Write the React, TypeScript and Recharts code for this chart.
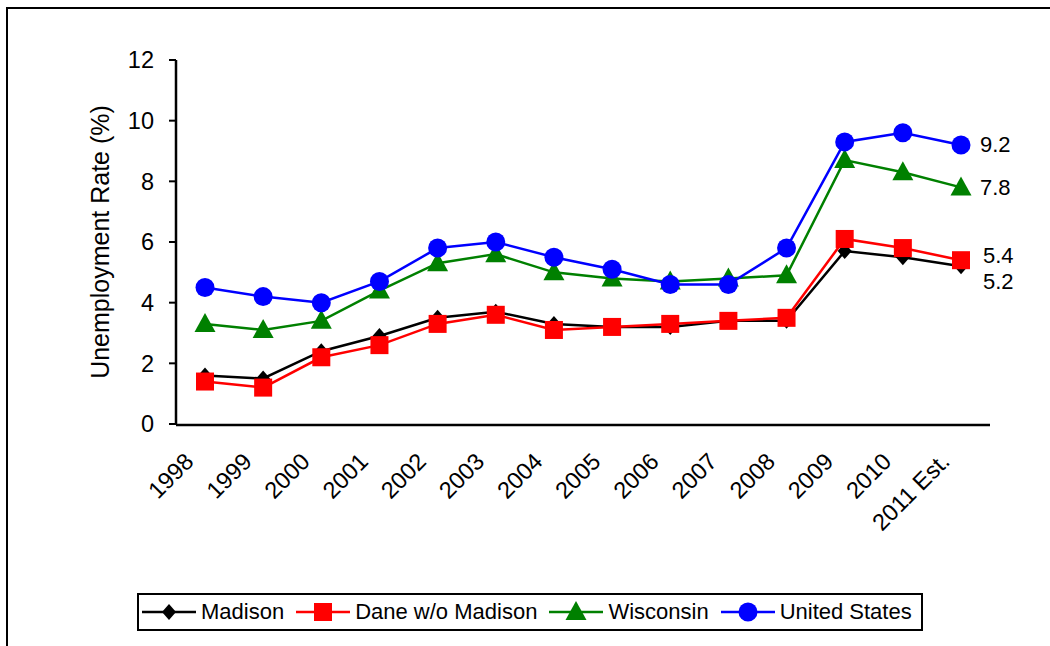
import { LineChart, Line, XAxis, YAxis, Legend, LabelList } from 'recharts'

const years = ['1998', '1999', '2000', '2001', '2002', '2003', '2004', '2005', '2006', '2007', '2008', '2009', '2010', '2011 Est.']
const madison = [1.6, 1.5, 2.4, 2.9, 3.5, 3.7, 3.3, 3.2, 3.2, 3.4, 3.4, 5.7, 5.5, 5.2]
const daneWoMadison = [1.4, 1.2, 2.2, 2.6, 3.3, 3.6, 3.1, 3.2, 3.3, 3.4, 3.5, 6.1, 5.8, 5.4]
const wisconsin = [3.3, 3.1, 3.4, 4.4, 5.3, 5.6, 5.0, 4.8, 4.7, 4.8, 4.9, 8.7, 8.3, 7.8]
const unitedStates = [4.5, 4.2, 4.0, 4.7, 5.8, 6.0, 5.5, 5.1, 4.6, 4.6, 5.8, 9.3, 9.6, 9.2]
const yTicks = [0, 2, 4, 6, 8, 10, 12]
const edgeTicks = [0, 1, 2, 3, 4, 5, 6, 7, 8, 9, 10, 11, 12, 13, 14]

const FONT = '"Liberation Sans", Arial, sans-serif'

type Shape = 'diamond' | 'square' | 'triangle' | 'circle'

const series = [
  { key: 'madison', name: 'Madison', color: '#000000', shape: 'diamond' as Shape, labelDx: 22, labelDy: 15 },
  { key: 'dane', name: 'Dane w/o Madison', color: '#ff0000', shape: 'square' as Shape, labelDx: 22, labelDy: -5 },
  { key: 'wisconsin', name: 'Wisconsin', color: '#008000', shape: 'triangle' as Shape, labelDx: 19, labelDy: 0 },
  { key: 'us', name: 'United States', color: '#0000ff', shape: 'circle' as Shape, labelDx: 19, labelDy: 0 }
]

const data = years.map((year, i) => ({
  year,
  madison: madison[i],
  dane: daneWoMadison[i],
  wisconsin: wisconsin[i],
  us: unitedStates[i]
}))

function Marker({ cx, cy, shape, color }: { cx: number; cy: number; shape: Shape; color: string }) {
  if (shape === 'diamond') {
    return <path d={`M${cx},${cy - 8}L${cx + 7},${cy}L${cx},${cy + 8}L${cx - 7},${cy}Z`} fill={color} />
  }
  if (shape === 'square') {
    return <rect x={cx - 9} y={cy - 9} width={18} height={18} fill={color} />
  }
  if (shape === 'triangle') {
    return <path d={`M${cx},${cy - 11}L${cx + 10.5},${cy + 8}L${cx - 10.5},${cy + 8}Z`} fill={color} />
  }
  return <circle cx={cx} cy={cy} r={9.5} fill={color} />
}

function YearTick({ x, y, payload }: any) {
  const ax = x - 10
  const ay = y + 39
  return (
    <text
      x={ax}
      y={ay}
      textAnchor="end"
      transform={`rotate(-45, ${ax}, ${ay})`}
      fontSize={23.5}
      fontFamily={FONT}
      fill="#000"
    >
      {payload.value}
    </text>
  )
}

function YLabel({ viewBox }: any) {
  const cy = viewBox.y + viewBox.height / 2
  return (
    <text
      x={100}
      y={cy}
      textAnchor="middle"
      dominantBaseline="central"
      transform={`rotate(-90, 100, ${cy})`}
      fontSize={25}
      fontFamily={FONT}
      fill="#000"
    >
      Unemployment Rate (%)
    </text>
  )
}

function LegendBox() {
  return (
    <div
      style={{
        display: 'flex',
        alignItems: 'center',
        border: '2px solid #000',
        height: 34,
        padding: '0 9px 0 3px',
        fontFamily: FONT,
        fontSize: 22,
        background: '#fff',
        whiteSpace: 'nowrap'
      }}
    >
      {series.map((s, i) => (
        <div key={s.key} style={{ display: 'flex', alignItems: 'center', marginLeft: i === 0 ? 0 : 12 }}>
          <svg width={54} height={24} style={{ marginRight: 5 }}>
            <line x1={0} y1={12} x2={54} y2={12} stroke={s.color} strokeWidth={2.5} />
            <Marker cx={27} cy={12} shape={s.shape} color={s.color} />
          </svg>
          <span>{s.name}</span>
        </div>
      ))}
    </div>
  )
}

export default function App() {
  return (
    <div style={{ position: 'absolute', left: 0, top: 0, width: 1050, height: 646, background: '#fff', overflow: 'hidden' }}>
      <div
        style={{
          position: 'absolute',
          left: 6,
          top: 7,
          width: 1100,
          height: 700,
          borderLeft: '2px solid #000',
          borderTop: '2px solid #000'
        }}
      />
      <div style={{ position: 'absolute', left: 0, top: 0 }}>
        <LineChart width={1050} height={646} data={data} margin={{ top: 60, right: 60, left: 0, bottom: 220 }}>
          <XAxis
            xAxisId="edge"
            type="number"
            domain={[0, 14]}
            ticks={edgeTicks}
            allowDataOverflow
            height={1}
            tick={false}
            tickSize={7}
            axisLine={{ stroke: '#000', strokeWidth: 2.5 }}
            tickLine={{ stroke: '#000', strokeWidth: 2 }}
          />
          <XAxis
            xAxisId="cat"
            dataKey="year"
            type="category"
            height={1}
            padding={{ left: 29, right: 29 }}
            axisLine={false}
            tickLine={false}
            tickSize={0}
            tickMargin={0}
            interval={0}
            tick={<YearTick />}
          />
          <YAxis
            domain={[0, 12]}
            ticks={yTicks}
            width={176}
            tickSize={7}
            tickMargin={15}
            axisLine={{ stroke: '#000', strokeWidth: 2.5 }}
            tickLine={{ stroke: '#000', strokeWidth: 2 }}
            tick={{ fill: '#000', fontSize: 23.5, fontFamily: FONT }}
            label={<YLabel />}
          />
          <Legend
            verticalAlign="middle"
            align="center"
            layout="horizontal"
            content={<LegendBox />}
            wrapperStyle={{ left: 137, top: 593, width: 'auto', height: 'auto' }}
          />
          {series.map((s) => (
            <Line
              key={s.key}
              xAxisId="cat"
              dataKey={s.key}
              name={s.name}
              stroke={s.color}
              strokeWidth={2.5}
              isAnimationActive={false}
              dot={(p: any) => <Marker key={`${s.key}-${p.index}`} cx={p.cx} cy={p.cy} shape={s.shape} color={s.color} />}
              activeDot={false}
            >
              <LabelList
                dataKey={s.key}
                content={(p: any) =>
                  p.index === years.length - 1 ? (
                    <text
                      x={p.x + s.labelDx}
                      y={p.y + s.labelDy}
                      dominantBaseline="central"
                      fontSize={22}
                      fontFamily={FONT}
                      fill="#000"
                    >
                      {p.value}
                    </text>
                  ) : null
                }
              />
            </Line>
          ))}
        </LineChart>
      </div>
    </div>
  )
}
